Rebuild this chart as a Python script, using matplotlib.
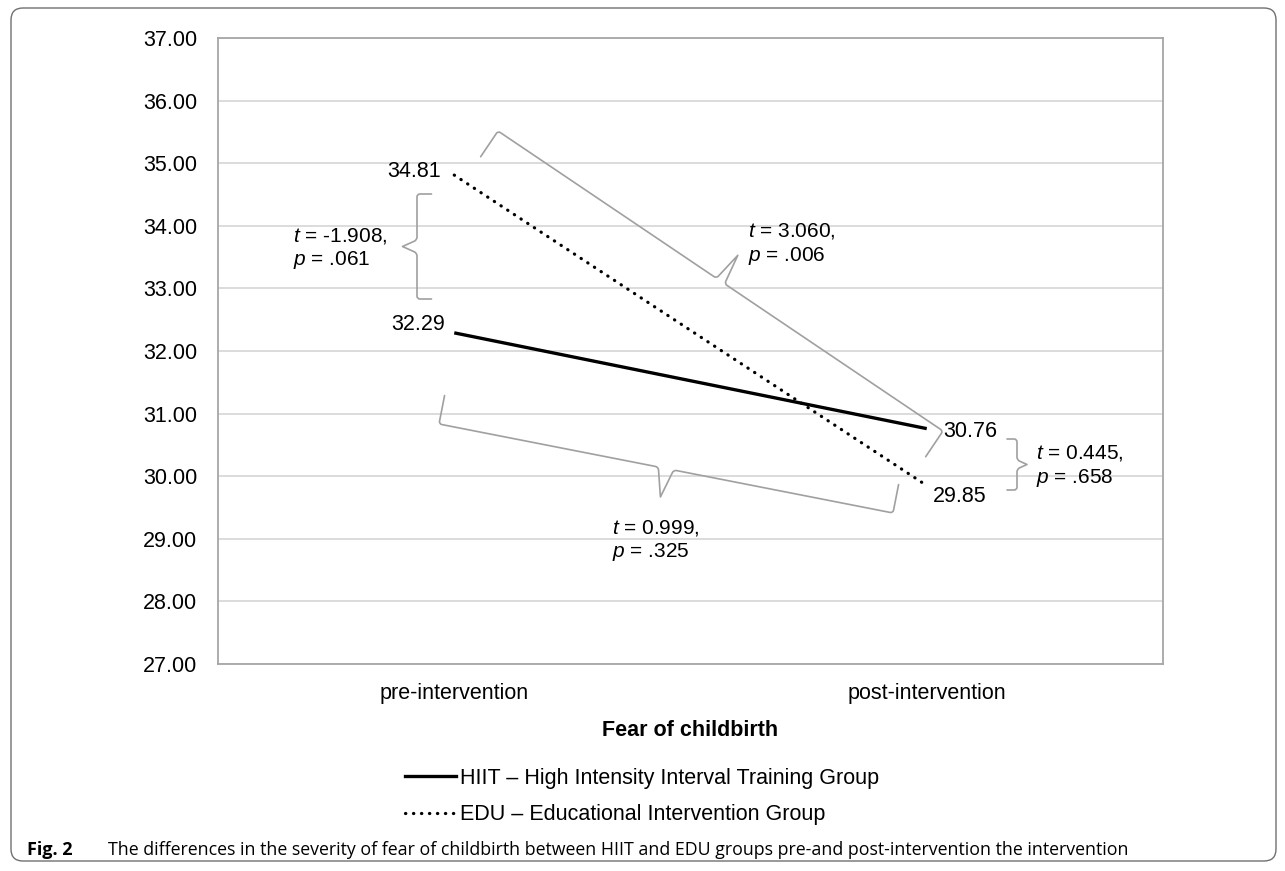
import numpy as np
import matplotlib
matplotlib.use("Agg")
import matplotlib.pyplot as plt
from matplotlib.path import Path
from matplotlib.patches import PathPatch, FancyBboxPatch
from matplotlib.lines import Line2D

# ---------------- data ----------------
categories = ["pre-intervention", "post-intervention"]
hiit_values = [32.29, 30.76]
edu_values = [34.81, 29.85]
series_names = ["HIIT \u2013 High Intensity Interval Training Group",
                "EDU \u2013 Educational Intervention Group"]
y_ticks = [27, 28, 29, 30, 31, 32, 33, 34, 35, 36, 37]
x_title = "Fear of childbirth"
stats_text = [("-1.908", ".061"), ("0.445", ".658"), ("3.060", ".006"), ("0.999", ".325")]
caption_bold = "Fig. 2"
caption_text = ("The differences in the severity of fear of childbirth between HIIT and EDU "
                "groups pre-and post-intervention the intervention")

# ---------------- style ----------------
W, H = 1285, 871
plt.rcParams["font.family"] = ["Liberation Sans", "DejaVu Sans"]
plt.rcParams["mathtext.fontset"] = "custom"
plt.rcParams["mathtext.it"] = "Liberation Sans:italic"
plt.rcParams["mathtext.rm"] = "Liberation Sans"
FS = 15.5
GRID = "#d9d9d9"
SPINE = "#a6a6a6"
BRACE = "#a0a0a0"

fig = plt.figure(figsize=(W / 100, H / 100), dpi=100)
fig.patch.set_facecolor("white")

left, right, top, bottom = 218, 1163, 38, 664
ax = fig.add_axes([left / W, 1 - bottom / H, (right - left) / W, (bottom - top) / H])

x = np.arange(len(categories))
ax.plot(x, hiit_values, color="black", lw=2.4, solid_capstyle="butt", zorder=3)
ax.plot(x, edu_values, color="black", lw=2.3, linestyle=(0, (0.1, 2.4)),
        dash_capstyle="round", zorder=3)

ax.set_xlim(-0.5, 1.5)
ax.set_ylim(27, 37)
ax.set_yticks(y_ticks)
ax.set_yticklabels([f"{v:.2f}" for v in y_ticks], fontsize=FS)
ax.set_xticks(x)
ax.set_xticklabels(categories, fontsize=FS)
ax.tick_params(axis="y", length=0, pad=15)
ax.tick_params(axis="x", length=0, pad=14)
ax.grid(axis="y", color=GRID, lw=1.3)
ax.set_axisbelow(True)
for s in ax.spines.values():
    s.set_color(SPINE)
    s.set_linewidth(1.3)

ax.set_xlabel(x_title, fontsize=FS, fontweight="bold", va="center")
ax.xaxis.set_label_coords(0.5, (bottom - 731) / (bottom - top))

# data labels (offset pixels, baseline)
label_specs = [
    (0, hiit_values[0], -9, 3, "right"),
    (0, edu_values[0], -13, -2, "right"),
    (1, hiit_values[1], 16, -8, "left"),
    (1, edu_values[1], 6, -16, "left"),
]
for xi, v, dx, dy, ha in label_specs:
    ax.annotate(f"{v:.2f}", (xi, v), xytext=(dx, dy), textcoords="offset pixels",
                ha=ha, va="baseline", fontsize=FS, color="black", zorder=4)

# ---------------- overlay in pixel coords ----------------
ov = fig.add_axes([0, 0, 1, 1], zorder=5)
ov.set_xlim(0, W)
ov.set_ylim(H, 0)
ov.axis("off")
ov.patch.set_alpha(0)


def brace(A, B, h, side, rm_frac, rc=3.0):
    A = np.array(A, float)
    B = np.array(B, float)
    d = B - A
    L = np.hypot(*d)
    u = d / L
    n = side * np.array([u[1], -u[0]])
    M = (A + B) / 2
    T = M + n * h
    rm = h * rm_frac
    J1 = M - u * rm
    J2 = M + u * rm
    k = 3.0
    a1 = J1 + (T - J1) / np.hypot(*(T - J1)) * k
    a2 = J2 + (T - J2) / np.hypot(*(T - J2)) * k
    verts = [A - n * h, A - n * rc, A, A + u * rc,
             J1 - u * k, J1, a1, T, a2, J2, J2 + u * k,
             B - u * rc, B, B - n * rc, B - n * h]
    codes = [Path.MOVETO, Path.LINETO, Path.CURVE3, Path.CURVE3,
             Path.LINETO, Path.CURVE3, Path.CURVE3, Path.LINETO, Path.LINETO,
             Path.CURVE3, Path.CURVE3,
             Path.LINETO, Path.CURVE3, Path.CURVE3, Path.LINETO]
    ov.add_patch(PathPatch(Path(verts, codes), fill=False, edgecolor=BRACE,
                           lw=1.2, capstyle="round", joinstyle="round"))


brace((417, 194), (417, 299), 14.5, -1, 0.45)
brace((1017, 439), (1017, 490), 10, 1, 0.45)
brace((498, 131), (943, 431), 31, 1, 0.16)
brace((439, 424), (893, 513), 29, -1, 0.27)

text_pos = [(293, 241.5, 264.5), (1036, 458.5, 482.5), (748, 236.5, 260.5), (612, 533.5, 556.5)]
for (tv, pv), (tx, y1, y2) in zip(stats_text, text_pos):
    ov.text(tx, y1, f"$t$ = {tv},", fontsize=15, ha="left", va="baseline")
    ov.text(tx, y2, f"$p$ = {pv}", fontsize=15, ha="left", va="baseline")

# legend
handles = [Line2D([], [], color="black", lw=2.4),
           Line2D([], [], color="black", lw=2.3, linestyle=(0, (0.1, 2.4)),
                  dash_capstyle="round")]
fig.legend(handles, series_names, loc="upper left",
           bbox_to_anchor=(405 / W, 1 - 768 / H), frameon=False, fontsize=FS,
           handlelength=2.36, handletextpad=0.18, labelspacing=0.70,
           borderpad=0, borderaxespad=0)

# frame
ov.add_patch(FancyBboxPatch((11, 8), 1265, 853, boxstyle="round,pad=0,rounding_size=12",
                            fill=False, edgecolor="#707070", lw=1.0))

# caption
ov.text(27, 855, caption_bold, fontsize=13, fontweight="bold", family="Open Sans",
        ha="left", va="baseline")
ov.text(108, 855, caption_text, fontsize=12.8, family="Open Sans", ha="left", va="baseline")

fig.savefig("out.png", dpi=100)
